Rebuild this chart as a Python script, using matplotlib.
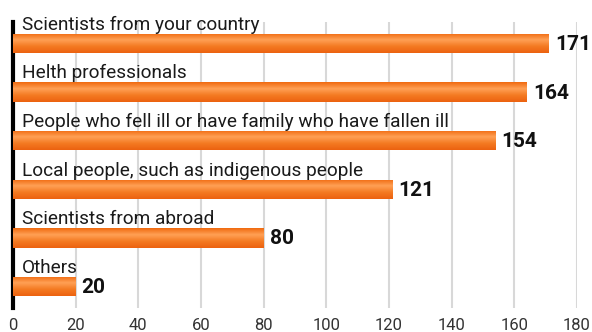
import matplotlib
matplotlib.use("Agg")
import matplotlib.pyplot as plt
import numpy as np
from matplotlib.colors import LinearSegmentedColormap

# Who should be consulted (number of responses)
categories = [
    "Scientists from your country",
    "Helth professionals",
    "People who fell ill or have family who have fallen ill",
    "Local people, such as indigenous people",
    "Scientists from abroad",
    "Others",
]
counts = [171, 164, 154, 121, 80, 20]
xticks = [0, 20, 40, 60, 80, 100, 120, 140, 160, 180]

plt.rcParams["font.family"] = ["Roboto", "DejaVu Sans"]

fig = plt.figure(figsize=(5.92, 3.32), dpi=100)
ax = fig.add_axes([13 / 592, 24 / 332, 564 / 592, 286 / 332])

bar_h = 0.4
ypos = np.arange(len(categories))

# orange gradient: darker at the edges, lighter through the middle
cmap = LinearSegmentedColormap.from_list(
    "bar", ["#f06a10", "#ffa055", "#f47a22", "#ec6210"])
grad = np.linspace(0, 1, 64).reshape(-1, 1)

bars = ax.barh(ypos, counts, height=bar_h, color="#f47a22", zorder=2)
for rect, y, v, lab in zip(bars, ypos, counts, categories):
    img = ax.imshow(grad, cmap=cmap, aspect="auto", zorder=3,
                    extent=[0, v, y + bar_h / 2, y - bar_h / 2])
    img.set_clip_path(rect)
    ax.annotate(lab, xy=(0, y - bar_h / 2), xytext=(9, 4),
                textcoords="offset pixels", ha="left", va="baseline",
                fontsize=13.7, color="#1a1a1a")
    ax.annotate(str(v), xy=(v, y), xytext=(6, -1),
                textcoords="offset pixels", ha="left", va="center",
                fontsize=15, fontweight="bold", color="#111111")

ax.set_xlim(0, 180)
ax.set_ylim(len(categories) - 1 + 0.44, -0.44)
ax.set_xticks(xticks)
ax.set_yticks([])
ax.grid(axis="x", color="#d8d8d8", linewidth=1.5, zorder=0)
ax.set_axisbelow(True)
ax.tick_params(axis="x", length=0, pad=7, labelsize=12, labelcolor="#333333")

for s in ["top", "right", "bottom"]:
    ax.spines[s].set_visible(False)
ax.spines["left"].set_linewidth(3)
ax.spines["left"].set_color("black")

fig.savefig("out.png", dpi=100)
